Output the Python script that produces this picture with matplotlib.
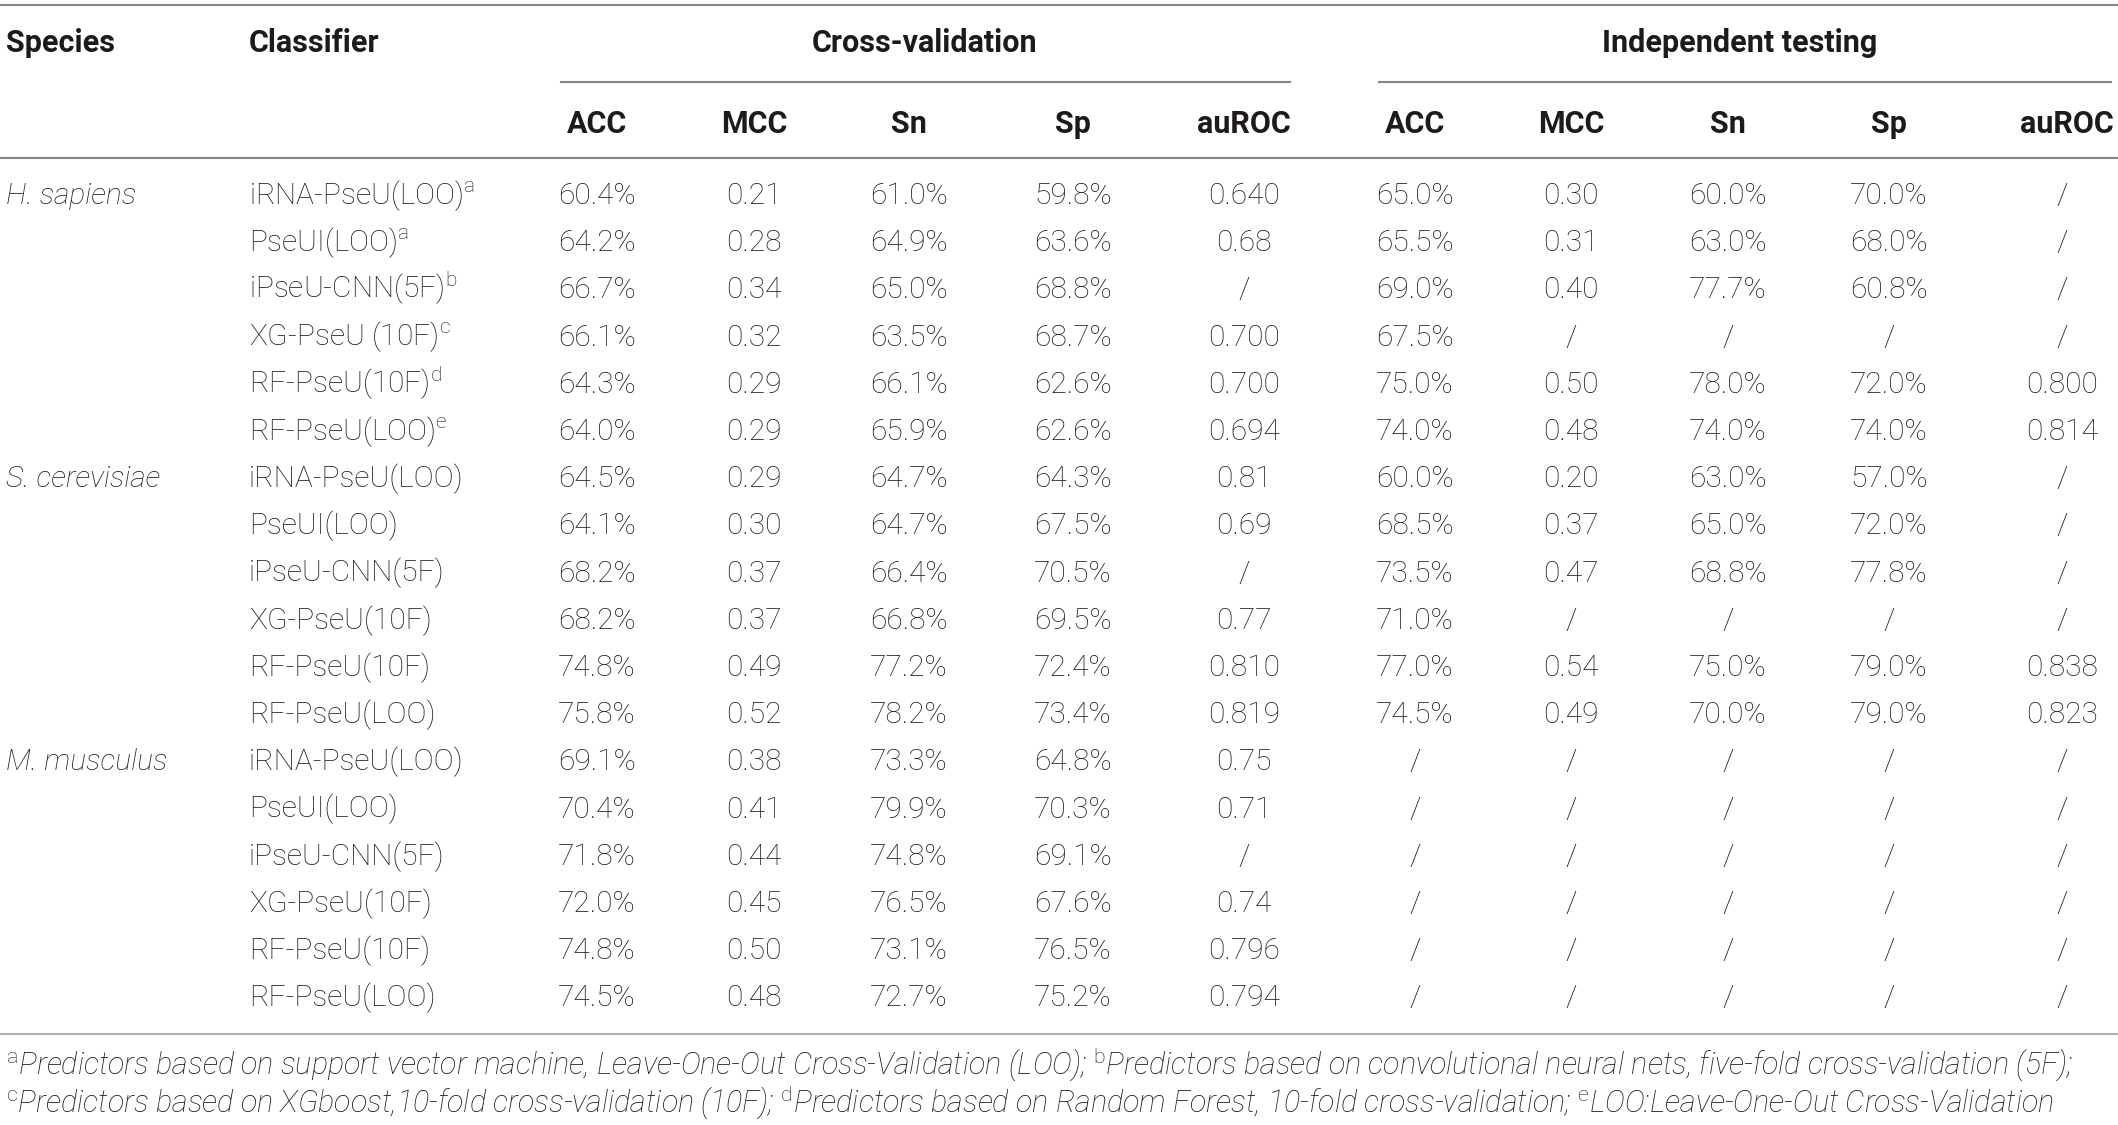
import numpy as np
import matplotlib
matplotlib.use("Agg")
import matplotlib.pyplot as plt

plt.rcParams["font.family"] = ["Roboto", "DejaVu Sans"]
plt.rcParams["mathtext.fontset"] = "custom"
plt.rcParams["mathtext.rm"] = "Roboto:light"
plt.rcParams["mathtext.it"] = "Roboto:italic:light"

species = ["H. sapiens", "S. cerevisiae", "M. musculus"]
classifiers = [
    ["iRNA-PseU(LOO)$^{\\mathrm{a}}$", "PseUI(LOO)$^{\\mathrm{a}}$", "iPseU-CNN(5F)$^{\\mathrm{b}}$",
     "XG-PseU (10F)$^{\\mathrm{c}}$", "RF-PseU(10F)$^{\\mathrm{d}}$", "RF-PseU(LOO)$^{\\mathrm{e}}$"],
    ["iRNA-PseU(LOO)", "PseUI(LOO)", "iPseU-CNN(5F)", "XG-PseU(10F)", "RF-PseU(10F)", "RF-PseU(LOO)"],
    ["iRNA-PseU(LOO)", "PseUI(LOO)", "iPseU-CNN(5F)", "XG-PseU(10F)", "RF-PseU(10F)", "RF-PseU(LOO)"],
]
metrics = ["ACC", "MCC", "Sn", "Sp", "auROC"]
groups = ["Cross-validation", "Independent testing"]

# cross-validation: ACC, MCC, Sn, Sp, auROC
cv_values = [
    ["60.4%", "0.21", "61.0%", "59.8%", "0.640"],
    ["64.2%", "0.28", "64.9%", "63.6%", "0.68"],
    ["66.7%", "0.34", "65.0%", "68.8%", "/"],
    ["66.1%", "0.32", "63.5%", "68.7%", "0.700"],
    ["64.3%", "0.29", "66.1%", "62.6%", "0.700"],
    ["64.0%", "0.29", "65.9%", "62.6%", "0.694"],
    ["64.5%", "0.29", "64.7%", "64.3%", "0.81"],
    ["64.1%", "0.30", "64.7%", "67.5%", "0.69"],
    ["68.2%", "0.37", "66.4%", "70.5%", "/"],
    ["68.2%", "0.37", "66.8%", "69.5%", "0.77"],
    ["74.8%", "0.49", "77.2%", "72.4%", "0.810"],
    ["75.8%", "0.52", "78.2%", "73.4%", "0.819"],
    ["69.1%", "0.38", "73.3%", "64.8%", "0.75"],
    ["70.4%", "0.41", "79.9%", "70.3%", "0.71"],
    ["71.8%", "0.44", "74.8%", "69.1%", "/"],
    ["72.0%", "0.45", "76.5%", "67.6%", "0.74"],
    ["74.8%", "0.50", "73.1%", "76.5%", "0.796"],
    ["74.5%", "0.48", "72.7%", "75.2%", "0.794"],
]
# independent testing: ACC, MCC, Sn, Sp, auROC
test_values = [
    ["65.0%", "0.30", "60.0%", "70.0%", "/"],
    ["65.5%", "0.31", "63.0%", "68.0%", "/"],
    ["69.0%", "0.40", "77.7%", "60.8%", "/"],
    ["67.5%", "/", "/", "/", "/"],
    ["75.0%", "0.50", "78.0%", "72.0%", "0.800"],
    ["74.0%", "0.48", "74.0%", "74.0%", "0.814"],
    ["60.0%", "0.20", "63.0%", "57.0%", "/"],
    ["68.5%", "0.37", "65.0%", "72.0%", "/"],
    ["73.5%", "0.47", "68.8%", "77.8%", "/"],
    ["71.0%", "/", "/", "/", "/"],
    ["77.0%", "0.54", "75.0%", "79.0%", "0.838"],
    ["74.5%", "0.49", "70.0%", "79.0%", "0.823"],
] + [["/", "/", "/", "/", "/"]] * 6

footnotes = [
    "$^{\\mathrm{a}}$Predictors based on support vector machine, Leave-One-Out Cross-Validation (LOO); "
    "$^{\\mathrm{b}}$Predictors based on convolutional neural nets, five-fold cross-validation (5F);",
    "$^{\\mathrm{c}}$Predictors based on XGboost,10-fold cross-validation (10F); "
    "$^{\\mathrm{d}}$Predictors based on Random Forest, 10-fold cross-validation; "
    "$^{\\mathrm{e}}$LOO:Leave-One-Out Cross-Validation",
]

W, H = 2118, 1125
fig = plt.figure(figsize=(W / 100, H / 100), dpi=100)
ax = fig.add_axes([0, 0, 1, 1])
ax.set_xlim(0, W)
ax.set_ylim(H, 0)
ax.axis("off")

txt = "#1e1a1b"
line_col = "#858585"
fs = 21.5
fs_hdr = 22
fs_note = 22

# layout
cv_x = [597, 754, 909, 1073, 1244]
test_x = [1415, 1571, 1728, 1889, 2062]
row0, pitch = 204, 47.2

# rules
ax.axhline(5, color=line_col, lw=1.5)
ax.axhline(158, color=line_col, lw=1.5)
ax.axhline(1034, color="#b0b0b0", lw=1.5)
ax.plot([561, 1290], [82, 82], color=line_col, lw=1.5)
ax.plot([1379, 2111], [82, 82], color=line_col, lw=1.5)

# headers
hdr = dict(fontsize=fs_hdr, fontweight="bold", color=txt, va="baseline")
ax.text(6, 52, "Species", ha="left", **hdr)
ax.text(249, 52, "Classifier", ha="left", **hdr)
ax.text(925, 52, groups[0], ha="center", **hdr)
ax.text(1740, 52, groups[1], ha="center", **hdr)
for i, m in enumerate(metrics):
    ax.text(cv_x[i], 133, m, ha="center", **hdr)
    if i < 4:
        ax.text(test_x[i], 133, m, ha="center", **hdr)
    else:
        ax.text(2114, 133, m, ha="right", **hdr)

# body
body = dict(color=txt, va="baseline", fontweight="light")
r = 0
for s, names in zip(species, classifiers):
    ax.text(6, row0 + r * pitch, s, ha="left", style="italic", fontsize=fs, **body)
    for name in names:
        y = row0 + r * pitch
        ax.text(249, y, name, ha="left", fontsize=fs, **body)
        for i in range(5):
            ax.text(cv_x[i], y, cv_values[r][i], ha="center", fontsize=fs, **body)
            ax.text(test_x[i], y, test_values[r][i], ha="center", fontsize=fs, **body)
        r += 1

# footnotes
for k, note in enumerate(footnotes):
    ax.text(6, 1075 + k * 38, note, ha="left", style="italic", fontsize=fs_note, **body)

fig.savefig("out.png", dpi=100)
